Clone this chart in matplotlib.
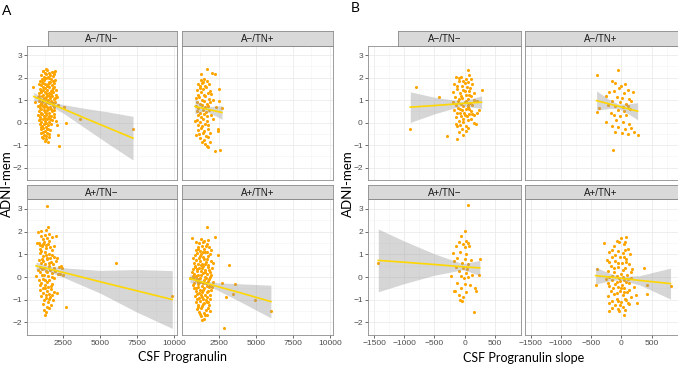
import numpy as np
import matplotlib.pyplot as plt

# facet titles, same order in both panels
facet_labels = ["A\u2212/TN\u2212", "A\u2212/TN+", "A+/TN\u2212", "A+/TN+"]

# ---------------- panel A: CSF progranulin vs ADNI-mem ----------------
pgrn_nn = [(460, 1.60), (570, 0.93), (2230, -1.02), (2570, 0.71), (3640, 0.16), (2660, -0.03),
           (2160, -0.55), (7220, -0.28), (1910, 2.31), (1320, 2.37),
           (1150, 2.28), (1400, 2.33), (1250, 2.22), (1850, 2.25), (1520, 2.20),
           (1000, 2.10), (1180, 2.05), (1330, 2.15), (1480, 2.02), (1630, 2.12), (1780, 2.08), (1900, 2.17),
           (920, 1.85), (1080, 1.95), (1220, 1.88), (1360, 1.97), (1500, 1.82), (1650, 1.93), (1800, 1.86), (1960, 1.90),
           (860, 1.72), (1010, 1.66), (1150, 1.78), (1290, 1.70), (1420, 1.62), (1560, 1.75), (1700, 1.68), (1840, 1.77),
           (950, 1.50), (1090, 1.43), (1230, 1.56), (1370, 1.47), (1510, 1.58), (1650, 1.41), (1790, 1.53), (2000, 1.45),
           (820, 1.30), (970, 1.36), (1120, 1.25), (1260, 1.38), (1400, 1.22), (1540, 1.33), (1680, 1.27), (1830, 1.35),
           (1990, 1.21), (780, 1.12), (900, 1.05), (1050, 1.17), (1190, 1.08), (1320, 1.15), (1460, 1.02), (1600, 1.10),
           (1740, 1.18), (1890, 1.04), (2060, 1.14), (860, 0.95), (1000, 0.86), (1140, 0.98), (1270, 0.83), (1390, 0.92),
           (1520, 0.88), (1660, 0.97), (1810, 0.84), (2120, 0.80), (1960, 0.91), (800, 0.72), (940, 0.65), (1080, 0.78),
           (1210, 0.68), (1350, 0.75), (1480, 0.62), (1610, 0.70), (1770, 0.77), (870, 0.52), (1020, 0.44), (1160, 0.57),
           (1290, 0.48), (1420, 0.55), (1560, 0.42), (1710, 0.50), (1900, 0.58), (760, 0.33), (920, 0.25), (1060, 0.38),
           (1190, 0.28), (1330, 0.35), (1470, 0.22), (1640, 0.31), (1850, 0.27), (830, 0.12), (980, 0.05), (1110, 0.17),
           (1250, 0.08), (1390, 0.14), (1540, 0.02), (1730, 0.10), (2010, 0.06), (890, -0.08), (1050, -0.15), (1190, -0.05),
           (1340, -0.18), (1490, -0.10), (1670, -0.04), (2100, -0.12), (960, -0.30), (1120, -0.25), (1280, -0.36),
           (1440, -0.28), (1630, -0.33), (1020, -0.48), (1210, -0.55), (1390, -0.45), (1560, -0.52), (1150, -0.68),
           (1320, -0.72), (1500, -0.64),
           (1100, 2.30), (1700, 2.25), (1250, 2.00), (1550, 1.98), (1030, 1.80), (1600, 1.80), (1120, 1.60),
           (1450, 1.70), (1900, 1.60), (1000, 1.40), (1300, 1.30), (1700, 1.45), (880, 1.20), (1150, 1.00),
           (1500, 1.20), (1950, 1.10), (1060, 0.90), (1330, 1.00), (1730, 0.90), (900, 0.80), (1150, 0.72),
           (1420, 0.68), (1900, 0.70), (1000, 0.60), (1350, 0.45), (1650, 0.60), (980, 0.40), (1250, 0.20),
           (1550, 0.30), (1850, 0.40), (940, 0.15), (1300, -0.02), (1620, 0.18), (1000, -0.20), (1400, -0.30),
           (1120, -0.40), (1300, -0.60), (1050, -0.62), (1250, -0.80), (1450, -0.85)]

pgrn_np = [(1750, 2.39), (1320, 2.15), (2050, 2.19), (2270, 2.15), (2500, 1.48), (2500, 0.96), (2730, 0.64),
           (2460, -0.29), (2480, -0.36), (2270, -1.26), (2570, -1.21), (910, 0.08), (960, -0.55), (1820, -1.07),
           (1710, -1.04), (1300, 1.88), (1550, 1.95), (1700, 1.83), (1420, 1.80), (1150, 1.70), (1380, 1.76),
           (1600, 1.65), (1850, 1.72), (1250, 1.62), (1050, 1.45), (1230, 1.55), (1450, 1.48), (1680, 1.58),
           (1900, 1.42), (1100, 1.25), (1320, 1.35), (1550, 1.22), (1760, 1.32), (2010, 1.28), (980, 1.08),
           (1180, 1.15), (1400, 1.02), (1620, 1.18), (1830, 1.05), (2150, 1.00), (1050, 0.92), (1270, 0.85),
           (1490, 0.96), (1710, 0.82), (1950, 0.90), (950, 0.72), (1150, 0.65), (1360, 0.78), (1580, 0.68),
           (1800, 0.75), (2300, 0.70), (1020, 0.52), (1230, 0.45), (1450, 0.58), (1670, 0.48), (1890, 0.55),
           (1100, 0.32), (1310, 0.25), (1530, 0.38), (1740, 0.28), (2000, 0.35), (1050, 0.12), (1260, 0.05),
           (1470, 0.17), (1690, 0.08), (2100, 0.15), (1150, -0.10), (1380, -0.16), (1600, -0.05), (1820, -0.12),
           (1100, -0.32), (1330, -0.25), (1550, -0.38), (1760, -0.30), (1200, -0.52), (1450, -0.45), (1680, -0.58),
           (1900, -0.48), (1280, -0.70), (1520, -0.75), (1780, -0.66), (1400, -0.88), (1620, -0.93), (1950, -0.85)]

pgrn_pn = [(1370, 3.14), (6090, 0.60), (9880, -0.82), (2660, -1.31), (1480, 2.22), (2000, 1.82), (2320, 0.48),
           (2400, 0.40), (2500, 0.10), (2300, 0.15), (650, 0.05), (720, 1.50), (800, 2.00),
           (960, 2.02), (1250, 1.85), (1550, 1.90), (1700, 1.75), (1100, 1.65), (1400, 1.72),
           (820, 1.50), (930, 1.42), (1080, 1.35), (1200, 1.55), (1340, 1.28), (1480, 1.45), (1620, 1.32), (1850, 1.38),
           (900, 1.05), (1020, 1.15), (1150, 0.92), (1280, 1.10), (1410, 0.85), (1540, 1.00), (1700, 0.95), (1900, 0.88),
           (2100, 0.82), (850, 0.75), (980, 0.62), (1120, 0.70), (1250, 0.55), (1380, 0.78), (1500, 0.48), (1640, 0.65),
           (1800, 0.58), (2000, 0.72), (2200, 0.45), (800, 0.30), (940, 0.22), (1070, 0.35), (1200, 0.10), (1330, 0.28),
           (1460, 0.05), (1600, 0.32), (1750, 0.18), (1950, 0.25), (2150, 0.12), (880, -0.15), (1010, -0.28),
           (1150, -0.08), (1290, -0.35), (1420, -0.20), (1560, -0.12), (1720, -0.30), (1900, -0.05), (950, -0.55),
           (1100, -0.70), (1240, -0.48), (1380, -0.62), (1520, -0.75), (1680, -0.52), (1850, -0.68), (2050, -0.72),
           (1000, -0.85), (1160, -1.02), (1310, -0.92), (1460, -1.10), (1610, -0.88), (1780, -1.00), (1200, -1.45),
           (1350, -1.55), (1500, -1.35), (1280, -1.68), (1650, -1.25),
           (1000, 1.80), (1300, 2.05), (1150, 1.45), (1550, 1.60), (950, 1.25), (1300, 1.40), (1700, 1.20),
           (1050, 0.80), (1350, 0.95), (1600, 0.82), (900, 0.45), (1180, 0.38), (1550, 0.60), (1850, 0.40),
           (1050, 0.10), (1400, 0.20), (1700, 0.00), (950, -0.35), (1250, -0.15), (1650, -0.40), (1150, -0.50),
           (1450, -0.45), (1300, -0.78), (1750, -0.80), (1100, -1.20), (1400, -1.30), (1550, -0.95)]

pgrn_pp = [(1750, 2.19), (690, 1.73), (2230, 1.78), (2430, 0.97), (3180, 0.53), (2730, -0.28), (3590, -0.32),
           (2980, -0.87), (3480, -0.76), (4950, -1.01), (6020, -1.50), (2840, -2.23), (570, -0.06), (750, -0.06),
           (1350, 1.65), (1550, 1.58), (1700, 1.45), (1200, 1.48), (1450, 1.52), (1800, 1.62),
           (950, 1.20), (1100, 1.32), (1250, 1.15), (1400, 1.38), (1550, 1.25), (1700, 1.12), (1850, 1.30), (2000, 1.18),
           (900, 0.95), (1050, 1.05), (1180, 0.85), (1320, 1.00), (1470, 0.88), (1610, 1.08), (1760, 0.92), (1900, 1.02),
           (850, 0.62), (980, 0.75), (1120, 0.55), (1260, 0.70), (1390, 0.58), (1530, 0.78), (1670, 0.65), (1820, 0.52),
           (1980, 0.72), (800, 0.35), (930, 0.45), (1070, 0.28), (1200, 0.40), (1340, 0.25), (1480, 0.48), (1620, 0.32),
           (1770, 0.42), (1920, 0.22), (2080, 0.38), (760, 0.05), (880, 0.15), (1010, -0.02), (1140, 0.10), (1280, -0.05),
           (1420, 0.18), (1560, 0.02), (1700, 0.12), (1850, -0.08), (2000, 0.08), (820, -0.25), (950, -0.15),
           (1090, -0.32), (1220, -0.20), (1360, -0.38), (1500, -0.12), (1640, -0.28), (1790, -0.18), (1950, -0.35),
           (2100, -0.22), (870, -0.48), (1000, -0.62), (1130, -0.45), (1270, -0.58), (1410, -0.68), (1550, -0.50),
           (1690, -0.65), (1840, -0.42), (2000, -0.55), (900, -0.85), (1040, -0.75), (1180, -0.92), (1320, -0.80),
           (1460, -0.98), (1600, -0.78), (1750, -0.88), (1900, -0.95), (950, -1.10), (1100, -1.22), (1250, -1.05),
           (1400, -1.28), (1550, -1.15), (1700, -1.08), (1850, -1.25), (1050, -1.40), (1200, -1.52), (1350, -1.35),
           (1500, -1.58), (1650, -1.45), (1800, -1.38), (1300, -1.72), (1500, -1.85), (1700, -1.68), (1400, -1.90),
           (1000, 1.55), (1650, 1.35), (1150, 1.25), (1480, 1.10), (800, 0.85), (1250, 0.92), (1700, 0.80),
           (2100, 0.60), (900, 0.50), (1300, 0.52), (1600, 0.58), (1050, 0.35), (1400, 0.38), (1850, 0.30),
           (700, 0.20), (950, 0.05), (1350, 0.08), (1630, -0.05), (1900, 0.00), (750, -0.35), (1150, -0.22),
           (1430, -0.25), (1720, -0.40), (2050, -0.45), (950, -0.50), (1200, -0.70), (1480, -0.55), (1780, -0.62),
           (1050, -0.95), (1380, -0.90), (1680, -1.00), (1950, -0.80), (1150, -1.30), (1480, -1.20), (1780, -1.12),
           (1250, -1.62), (1600, -1.65), (1900, -1.50), (1100, -0.10), (1600, 0.22)]

# lm fit and 95% band: x, fit, lower, upper
pgrn_nn_fit = ([500, 1000, 1500, 2500, 4000, 5500, 7220],
               [1.16, 1.02, 0.88, 0.61, 0.19, -0.22, -0.69],
               [0.97, 0.90, 0.79, 0.42, -0.25, -0.92, -1.66],
               [1.35, 1.14, 0.97, 0.80, 0.63, 0.48, 0.28])
pgrn_np_fit = ([910, 1500, 2000, 2730],
               [0.72, 0.63, 0.56, 0.45],
               [0.39, 0.53, 0.40, 0.15],
               [1.05, 0.73, 0.72, 0.75])
pgrn_pn_fit = ([650, 1500, 3000, 5000, 7500, 9880],
               [0.49, 0.36, 0.12, -0.21, -0.61, -0.99],
               [0.32, 0.25, -0.15, -0.71, -1.55, -2.26],
               [0.66, 0.47, 0.38, 0.29, 0.33, 0.28])
pgrn_pp_fit = ([570, 1500, 2500, 4000, 6020],
               [-0.07, -0.24, -0.43, -0.70, -1.08],
               [-0.25, -0.31, -0.60, -1.10, -1.80],
               [0.11, -0.17, -0.26, -0.30, -0.36])

# ---------------- panel B: CSF progranulin slope vs ADNI-mem ----------------
slope_nn = [(-900, -0.29), (-810, 1.59), (-430, 1.13), (-290, -0.61), (-120, -0.73), (-20, -0.57), (50, 2.32),
            (280, 1.46), (180, -0.07), (150, -0.03), (-150, 2.02), (-60, 2.05), (20, 1.95), (80, 2.10), (-100, 1.85),
            (0, 1.78), (60, 1.82), (-180, 1.70), (-40, 1.65), (40, 1.60), (120, 1.72), (-130, 1.50), (-20, 1.45),
            (70, 1.40), (-200, 1.35), (-80, 1.30), (30, 1.25), (150, 1.32), (-160, 1.15), (-50, 1.10), (50, 1.05),
            (100, 1.18), (-110, 0.98), (0, 0.92), (-200, 0.90), (90, 0.88), (200, 0.95), (-140, 0.78), (-30, 0.75),
            (60, 0.70), (130, 0.80), (-80, 0.62), (20, 0.60), (-180, 0.55), (100, 0.52), (240, 0.58), (-120, 0.42),
            (-10, 0.45), (80, 0.38), (-60, 0.30), (40, 0.28), (-150, 0.25), (150, 0.32), (-20, 0.15), (60, 0.10),
            (-100, 0.08), (210, 0.45), (-70, -0.10), (20, -0.15), (-150, -0.05), (-40, -0.30), (50, -0.25), (-90, -0.40),
            (-90, 2.00), (110, 1.95), (-20, 1.85), (-130, 1.65), (90, 1.55), (0, 1.40), (-60, 1.20), (80, 1.25),
            (-100, 1.05), (30, 0.95), (150, 1.00), (-60, 0.85), (50, 0.80), (-110, 0.65), (70, 0.60), (-40, 0.55),
            (10, 0.35), (-80, 0.45), (120, 0.40), (-30, 0.02), (100, 0.15), (-120, -0.15), (30, -0.35)]

slope_np = [(-410, 2.14), (-64, 2.36), (-400, 0.48), (-133, -1.23), (212, -0.42), (267, -0.57), (187, 1.38),
            (-160, 1.83), (-372, 0.65), (-100, 1.75), (0, 1.65), (60, 1.70), (-40, 1.55), (-200, 1.35), (-120, 1.40),
            (40, 1.30), (100, 1.45), (-250, 1.20), (-80, 1.15), (10, 1.10), (120, 1.05), (-160, 0.98), (-30, 0.92),
            (70, 0.85), (150, 0.95), (-220, 0.78), (-100, 0.72), (20, 0.68), (110, 0.75), (-60, 0.55), (40, 0.50),
            (-180, 0.45), (140, 0.60), (-130, 0.32), (-20, 0.28), (80, 0.35), (-250, 0.05), (-90, 0.12), (30, 0.05),
            (120, -0.05), (-50, -0.20), (60, -0.28), (-160, -0.15), (10, -0.45), (100, -0.50), (-100, -0.42),
            (160, -0.25)]

slope_pn = [(60, 3.17), (150, -1.55), (5, 2.04), (-1430, 0.61), (-225, 0.03), (-160, -0.63), (-75, -1.00),
            (175, -0.48), (250, 0.78), (240, 0.08), (-60, 1.80), (20, 1.60), (-100, 1.55), (-20, 1.45), (50, 1.50),
            (-140, 1.35), (0, 1.30), (80, 1.38), (-200, 1.05), (-80, 1.10), (30, 1.00), (-120, 0.85), (10, 0.80),
            (100, 0.75), (-180, 0.70), (-50, 0.62), (60, 0.55), (-150, 0.45), (-30, 0.40), (40, 0.35), (-90, 0.25),
            (20, 0.18), (120, 0.10), (-60, 0.05), (60, 0.02), (-10, -0.05), (-120, -0.25), (0, -0.30), (90, -0.35),
            (-60, -0.50), (30, -0.65), (-180, -0.60), (-100, -0.80), (-20, -0.90), (-50, -1.05), (180, -0.60)]

slope_pp = [(-426, -0.34), (-293, 1.49), (-213, -1.48), (-43, -1.48), (43, -1.65), (80, 1.75), (372, 0.39),
            (426, -0.35), (426, -0.73), (240, -0.78), (256, -1.14), (810, -0.41), (-410, 0.35),
            (0, 1.70), (-40, 1.55), (40, 1.45), (-120, 1.35), (100, 1.25), (-200, 1.10), (-60, 1.15), (20, 1.05),
            (140, 1.00), (-160, 0.90), (-20, 0.88), (70, 0.80), (-240, 0.75), (-100, 0.70), (10, 0.62), (120, 0.55),
            (-180, 0.50), (-50, 0.45), (60, 0.40), (180, 0.35), (-230, 0.25), (-130, 0.20), (-10, 0.15), (90, 0.10),
            (-200, 0.02), (-70, 0.05), (30, -0.02), (150, -0.05), (-250, -0.10), (-150, -0.15), (-30, -0.18),
            (70, -0.22), (-100, -0.30), (10, -0.35), (120, -0.28), (-200, -0.40), (-60, -0.45), (50, -0.50),
            (200, -0.42), (-170, -0.60), (-20, -0.62), (90, -0.65), (-120, -0.75), (30, -0.80), (-230, -0.85),
            (-70, -0.95), (60, -0.98), (150, -0.90), (-160, -1.05), (-10, -1.10), (100, -1.15), (-100, -1.25),
            (20, -1.30), (-50, -1.40), (120, -1.20),
            (-80, 1.60), (60, 1.55), (-150, 1.20), (60, 1.20), (-100, 0.95), (40, 0.90), (-200, 0.65), (-60, 0.60),
            (80, 0.65), (-130, 0.38), (30, 0.30), (150, 0.20), (-160, 0.05), (-40, -0.05), (100, -0.10),
            (-220, -0.25), (-70, -0.20), (40, -0.12), (-140, -0.50), (0, -0.48), (130, -0.55), (-80, -0.70),
            (50, -0.68), (-200, -1.15), (-50, -1.05), (80, -1.00), (-150, -1.35), (-20, -1.25), (60, -1.45)]

slope_nn_fit = ([-900, -500, -50, 280],
                [0.69, 0.76, 0.85, 0.91],
                [0.01, 0.39, 0.75, 0.63],
                [1.37, 1.13, 0.95, 1.19])
slope_np_fit = ([-410, -200, -50, 100, 267],
                [0.98, 0.83, 0.73, 0.62, 0.51],
                [0.55, 0.63, 0.63, 0.41, 0.13],
                [1.41, 1.03, 0.83, 0.83, 0.89])
slope_pn_fit = ([-1430, -1000, -500, -30, 250],
                [0.73, 0.65, 0.55, 0.45, 0.40],
                [-0.65, -0.29, 0.08, 0.32, 0.07],
                [2.11, 1.58, 1.02, 0.58, 0.73])
slope_pp_fit = ([-426, -200, -30, 300, 810],
                [0.06, 0.00, -0.05, -0.15, -0.29],
                [-0.31, -0.17, -0.12, -0.35, -0.97],
                [0.43, 0.17, 0.02, 0.06, 0.39])

# ---------------- layout (pixels of the 678x366 canvas) ----------------
W, H = 678, 366
fig = plt.figure(figsize=(W / 100, H / 100), dpi=100)

def add_px_axes(x0, y0, x1, y1):
    return fig.add_axes([x0 / W, 1 - y1 / H, (x1 - x0) / W, (y1 - y0) / H])

rows = [(45.5, 180), (199, 335)]
strip_rows = [(31, 45.5), (185, 199)]

panels = [
    dict(cols=[(27, 177), (182, 333)], strip_cut=48,
         data=[pgrn_nn, pgrn_np, pgrn_pn, pgrn_pp],
         fits=[pgrn_nn_fit, pgrn_np_fit, pgrn_pn_fit, pgrn_pp_fit],
         xlim=(40, 10200), xmajor=[2500, 5000, 7500, 10000],
         xminor=[1250, 3750, 6250, 8750]),
    dict(cols=[(368, 520.5), (524.5, 677.5)], strip_cut=398,
         data=[slope_nn, slope_np, slope_pn, slope_pp],
         fits=[slope_nn_fit, slope_np_fit, slope_pn_fit, slope_pp_fit],
         xlim=(-1600, 925), xmajor=[-1500, -1000, -500, 0, 500],
         xminor=[-1250, -750, -250, 250, 750]),
]

border = '#8C8C8C'
for p in panels:
    for k in range(4):
        r, c = divmod(k, 2)
        x0, x1 = p['cols'][c]
        y0, y1 = rows[r]
        ax = add_px_axes(x0, y0, x1, y1)
        pts = np.array(p['data'][k])
        ax.scatter(pts[:, 0], pts[:, 1], s=5, color='#FFA500', linewidths=0, zorder=2)
        fx, fy, lo, hi = p['fits'][k]
        ax.fill_between(fx, lo, hi, color='#999999', alpha=0.4, linewidth=0, zorder=3)
        ax.plot(fx, fy, color='#FFD700', lw=1.2, zorder=4)

        ax.set_xlim(*p['xlim'])
        ax.set_ylim(-2.55, 3.43)
        ax.set_xticks(p['xmajor'])
        ax.set_xticks(p['xminor'], minor=True)
        ax.set_yticks([-2, -1, 0, 1, 2, 3])
        ax.set_yticks([-1.5, -0.5, 0.5, 1.5, 2.5], minor=True)
        ax.grid(which='major', color='#EBEBEB', lw=0.6)
        ax.grid(which='minor', color='#F3F3F3', lw=0.4)
        ax.set_axisbelow(True)
        for s in ax.spines.values():
            s.set_color(border)
            s.set_linewidth(0.6)
        ax.tick_params(which='major', length=2.2, width=0.5, color='#333333',
                       labelsize=6, labelcolor='#4D4D4D', pad=1.5)
        ax.tick_params(which='minor', length=0)
        if r == 0:
            ax.tick_params(labelbottom=False, bottom=False)
        if c == 1:
            ax.tick_params(labelleft=False, left=False)
        for lab in ax.get_xticklabels() + ax.get_yticklabels():
            lab.set_family('Liberation Sans')

        # facet strip (top-left ones are clipped on the left, as in the source)
        sx0 = p['strip_cut'] if (r == 0 and c == 0) else x0
        sy0, sy1 = strip_rows[r]
        st = add_px_axes(sx0, sy0, x1, sy1)
        st.set_facecolor('#D9D9D9')
        st.set_xticks([])
        st.set_yticks([])
        for s in st.spines.values():
            s.set_color(border)
            s.set_linewidth(0.6)
        st.text((0.5 * (x0 + x1) - sx0) / (x1 - sx0), 0.45, facet_labels[k],
                ha='center', va='center', fontsize=7, color='#1A1A1A',
                family='Liberation Sans', transform=st.transAxes)

title_font = 'Lato'
fig.text(7 / W, 1 - 11 / H, 'A', fontsize=10, ha='center', va='center', family=title_font)
fig.text(355 / W, 1 - 8 / H, 'B', fontsize=10, ha='center', va='center', family=title_font)
fig.text(7 / W, 1 - 184 / H, 'ADNI-mem', rotation=90, fontsize=9.5, ha='center', va='center', family=title_font)
fig.text(348 / W, 1 - 184 / H, 'ADNI-mem', rotation=90, fontsize=9.5, ha='center', va='center', family=title_font)
fig.text(182 / W, 1 - 357 / H, 'CSF Progranulin', fontsize=9, ha='center', va='center', family=title_font)
fig.text(524 / W, 1 - 358 / H, 'CSF Progranulin slope', fontsize=9, ha='center', va='center', family=title_font)

fig.savefig('out.png', dpi=100)
